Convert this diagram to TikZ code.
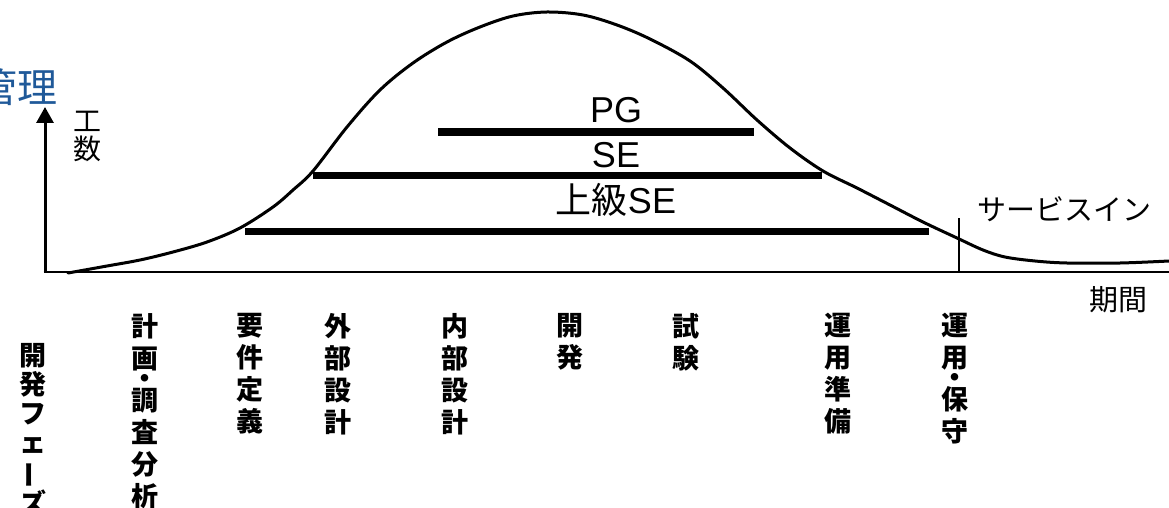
\documentclass[tikz,border=0pt]{standalone}
\usepackage{fontspec}
\usepackage{graphicx}
\setmainfont{Liberation Sans}
\newfontfamily\cjk{Noto Sans CJK JP}
\usetikzlibrary{arrows.meta}
\definecolor{titleblue}{RGB}{31,89,153}
\begin{document}
\begin{tikzpicture}[x=1pt,y=-1pt,
  curveline/.style={line width=3pt, line join=round, line cap=round},
  barline/.style={line width=7pt},
  axisline/.style={line width=2pt},
  vlabel/.style={font=\cjk\bfseries\fontsize{27}{32}\selectfont, align=center, inner sep=0pt, anchor=north},
  role/.style={font=\fontsize{36}{36}\selectfont, inner sep=0pt, anchor=base},
  jtext/.style={font=\cjk\fontsize{29}{29}\selectfont, inner sep=0pt}]
\useasboundingbox (0,0) rectangle (1169,508);

% axes
\coordinate (o) at (45,272);
\coordinate (ytip) at (45,107);
\coordinate (xo) at (43.5,272);
\coordinate (xend) at (1169,272);
\draw[line width=3pt, -{Triangle[length=16pt,width=17pt]}] (o) -- (ytip);
\draw[axisline] (xo) -- (xend);

% service-in marker
\coordinate (si1) at (959,218);
\coordinate (si2) at (959,272);
\draw[line width=1.5pt] (si1) -- (si2);

% effort curve
\draw[curveline] plot[smooth, tension=0.55] coordinates {
 (68,273) (107,266) (140,260) (173,252) (207,242) (240,228) (273,207)
 (293,190) (313,171) (347,127) (380,90) (413,63) (447,42) (480,27)
 (513,16) (547,12) (583,15) (617,25) (650,39) (690,61) (723,88)
 (757,120) (790,148) (823,171) (857,188) (890,205) (923,222)
 (957,238) (983,250) (1005,257) (1035,261) (1067,263)
 (1120,263) (1169,261)};

% role bars
\coordinate (pg1) at (438,132);   \coordinate (pg2) at (754,132);
\coordinate (se1) at (313,175.5); \coordinate (se2) at (822,175.5);
\coordinate (ss1) at (245,231.5); \coordinate (ss2) at (929,231.5);
\draw[barline] (pg1) -- (pg2);
\draw[barline] (se1) -- (se2);
\draw[barline] (ss1) -- (ss2);

% role labels
\node[role] (pg) at (616,123) {PG};
\node[role] (se) at (616,167) {SE};
\node[role] (sse) at (616,213) {{\cjk 上級}SE};

% axis labels
\node[font=\cjk\fontsize{40}{40}\selectfont, text=titleblue, inner sep=0pt, anchor=east] (title) at (58,87) {管理};
\node[font=\cjk\fontsize{28}{28}\selectfont, align=center, inner sep=0pt, anchor=north] (kosu) at (87,111) {工\\数};
\node[jtext, anchor=west] (svc) at (977,209) {サービスイン};
\node[jtext] (kikan) at (1118,300) {期間};

% phase labels (vertical)
\node[vlabel, font=\cjk\bfseries\fontsize{27}{29}\selectfont] (ph0) at (33,343) {開\\発\\フ\\ェ\\\rotatebox[origin=c]{90}{ー}\\ズ};
\node[vlabel] (ph1) at (145,313) {計\\画\\[-12pt]・\\[-10pt]調\\査\\分\\析};
\node[vlabel] (ph2) at (250,313) {要\\件\\定\\義};
\node[vlabel] (ph3) at (338,313) {外\\部\\設\\計};
\node[vlabel] (ph4) at (455,313) {内\\部\\設\\計};
\node[vlabel] (ph5) at (570,313) {開\\発};
\node[vlabel] (ph6) at (686,313) {試\\験};
\node[vlabel] (ph7) at (838,313) {運\\用\\準\\備};
\node[vlabel] (ph8) at (955,313) {運\\用\\[-12pt]・\\[-10pt]保\\守};
\end{tikzpicture}
\end{document}
